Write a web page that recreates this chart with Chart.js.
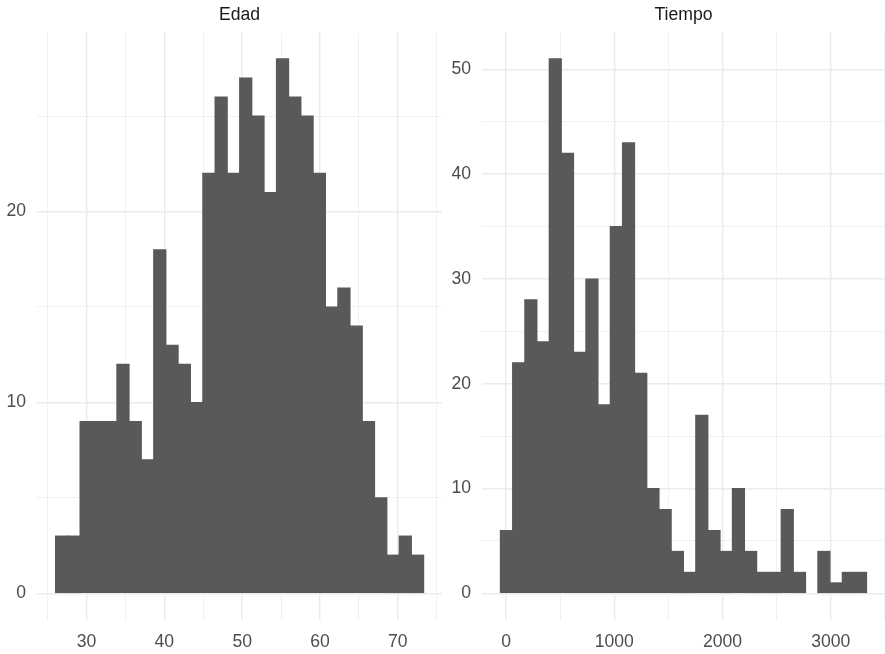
<!DOCTYPE html>
<html>
<head>
<meta charset="utf-8">
<script src="https://cdn.jsdelivr.net/npm/chart.js@4.4.1/dist/chart.umd.min.js"></script>
<style>
  body { margin: 0; background: #fff; }
  #left { position: absolute; left: 0; top: 0; width: 442px; height: 654px; }
  #right { position: absolute; left: 445px; top: 0; width: 440px; height: 654px; }
</style>
</head>
<body>
<div id="left"><canvas id="edad"></canvas></div>
<div id="right"><canvas id="tiempo"></canvas></div>
<script>
// Edad: 30 bins
const edadBinStart = 26.01;
const edadBinWidth = 1.577;
const edadCounts = [3, 3, 9, 9, 9, 12, 9, 7, 18, 13, 12, 10, 22, 26, 22, 27, 25, 21, 28, 26, 25, 22, 15, 16, 14, 9, 5, 2, 3, 2];
const edadXTicks = [25, 30, 35, 40, 45, 50, 55, 60, 65, 70, 75];
const edadYTicks = [0, 5, 10, 15, 20, 25];

// Tiempo: 30 bins
const tiempoBinStart = -52.6;
const tiempoBinWidth = 112.8;
const tiempoCounts = [6, 22, 28, 24, 51, 42, 23, 30, 18, 35, 43, 21, 10, 8, 4, 2, 17, 6, 4, 10, 4, 2, 2, 8, 2, 0, 4, 1, 2, 2];
const tiempoXTicks = [0, 500, 1000, 1500, 2000, 2500, 3000, 3500];
const tiempoYTicks = [0, 5, 10, 15, 20, 25, 30, 35, 40, 45, 50];

const FONT = '"Liberation Sans", Arial, sans-serif';
const FSIZE = 17.6;

function makeHist(id, title, start, width, counts, xTicks, yTicks, xMajor, yMajor, xMin, xMax, yMin, yMax) {
    let points = [];
    for (let i = 0; i < counts.length; i++) {
        points.push({ x: start + width * (i + 0.5), y: counts[i] });
    }

    let gridWidth = (major) => function (ctx) {
        if (!ctx.tick) return 0;
        return ctx.tick.value % major === 0 ? 1.4 : 0.7;
    };

    return new Chart(document.getElementById(id), {
        type: 'bar',
        data: {
            datasets: [{
                data: points,
                backgroundColor: '#595959',
                borderWidth: 0,
                barPercentage: 1,
                categoryPercentage: 1,
                // empty bins draw nothing, others overlap a bit so no seams show
                inflateAmount: (ctx) => (ctx.raw && ctx.raw.y === 0) ? 0 : 0.5
            }]
        },
        options: {
            responsive: true,
            maintainAspectRatio: false,
            animation: false,
            layout: { padding: 0 },
            plugins: {
                legend: { display: false },
                tooltip: { enabled: false },
                title: {
                    display: true,
                    fullSize: false,
                    text: title,
                    color: '#1a1a1a',
                    font: { family: FONT, size: FSIZE, weight: 'normal' },
                    padding: { top: 5, bottom: 6 }
                }
            },
            scales: {
                x: {
                    type: 'linear',
                    min: xMin,
                    max: xMax,
                    offset: false,
                    afterBuildTicks: (scale) => { scale.ticks = xTicks.map(v => ({ value: v })); },
                    afterFit: (scale) => {
                        scale.height = 34;
                        scale.paddingLeft = 0;
                        scale.paddingRight = 0;
                    },
                    grid: { color: '#ebebeb', lineWidth: gridWidth(xMajor), drawTicks: false, offset: false },
                    border: { display: false },
                    ticks: {
                        autoSkip: false,
                        maxRotation: 0,
                        padding: 12,
                        color: '#4d4d4d',
                        font: { family: FONT, size: FSIZE },
                        callback: (v) => v % xMajor === 0 ? String(v) : ''
                    }
                },
                y: {
                    min: yMin,
                    max: yMax,
                    afterBuildTicks: (scale) => { scale.ticks = yTicks.map(v => ({ value: v })); },
                    afterFit: (scale) => {
                        scale.width = 37;
                        scale.paddingTop = 0;
                        scale.paddingBottom = 0;
                    },
                    grid: { color: '#ebebeb', lineWidth: gridWidth(yMajor), drawTicks: false },
                    border: { display: false },
                    ticks: {
                        autoSkip: false,
                        padding: 11,
                        color: '#4d4d4d',
                        font: { family: FONT, size: FSIZE },
                        callback: (v) => v % yMajor === 0 ? String(v) : ''
                    }
                }
            }
        }
    });
}

makeHist('edad', 'Edad', edadBinStart, edadBinWidth, edadCounts, edadXTicks, edadYTicks, 10, 10, 23.64, 75.67, -1.4, 29.4);
makeHist('tiempo', 'Tiempo', tiempoBinStart, tiempoBinWidth, tiempoCounts, tiempoXTicks, tiempoYTicks, 1000, 10, -222, 3501, -2.55, 53.55);
</script>
</body>
</html>
